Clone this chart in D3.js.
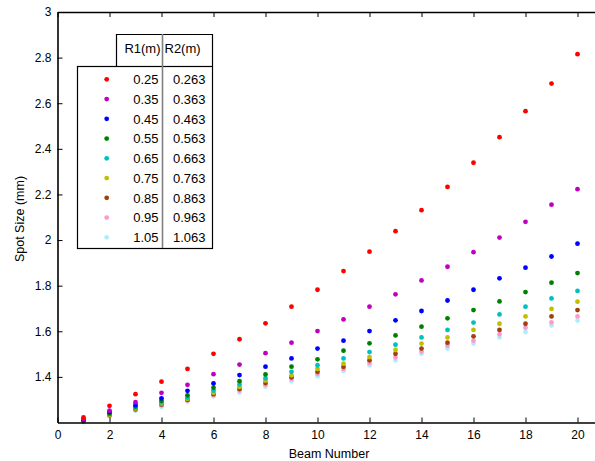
<!DOCTYPE html>
<html>
<head>
<meta charset="utf-8">
<script src="https://cdn.jsdelivr.net/npm/d3@7"></script>
<style>
  body { margin: 0; background: #fff; }
  text { font-family: "Liberation Sans", Arial, sans-serif; fill: #000; }
</style>
</head>
<body>
<script>
// beam numbers along x
var beams = d3.range(1, 21);

// legend radii
var r1Labels = ['0.25', '0.35', '0.45', '0.55', '0.65', '0.75', '0.85', '0.95', '1.05'];
var r2Labels = ['0.263', '0.363', '0.463', '0.563', '0.663', '0.763', '0.863', '0.963', '1.063'];
var colors = ['#ff0000', '#c000c0', '#0000ff', '#008000', '#00c0c0', '#c0c000', '#a0400a', '#ff99cc', '#aaeeff'];

// spot size (mm) per beam, one array per R1
var s025 = [1.222, 1.273, 1.324, 1.379, 1.435, 1.501, 1.565, 1.635, 1.708, 1.782, 1.864, 1.949, 2.039, 2.131, 2.233, 2.339, 2.451, 2.565, 2.686, 2.815];
var s035 = [1.214, 1.252, 1.289, 1.330, 1.365, 1.412, 1.454, 1.504, 1.550, 1.601, 1.652, 1.708, 1.762, 1.823, 1.883, 1.947, 2.011, 2.080, 2.155, 2.223];
var s045 = [1.211, 1.246, 1.277, 1.306, 1.339, 1.371, 1.408, 1.445, 1.481, 1.524, 1.559, 1.601, 1.648, 1.689, 1.735, 1.782, 1.832, 1.879, 1.928, 1.984];
var s055 = [1.209, 1.240, 1.270, 1.295, 1.319, 1.352, 1.381, 1.411, 1.445, 1.477, 1.515, 1.547, 1.582, 1.620, 1.657, 1.693, 1.731, 1.772, 1.813, 1.855];
var s065 = [1.208, 1.237, 1.265, 1.288, 1.310, 1.340, 1.367, 1.394, 1.422, 1.451, 1.481, 1.509, 1.541, 1.573, 1.606, 1.638, 1.674, 1.708, 1.744, 1.777];
var s075 = [1.207, 1.234, 1.261, 1.283, 1.304, 1.330, 1.356, 1.384, 1.407, 1.435, 1.458, 1.487, 1.518, 1.546, 1.573, 1.606, 1.633, 1.665, 1.698, 1.730];
var s085 = [1.206, 1.232, 1.258, 1.279, 1.299, 1.324, 1.347, 1.373, 1.398, 1.422, 1.444, 1.473, 1.501, 1.524, 1.550, 1.578, 1.606, 1.633, 1.665, 1.693];
var s095 = [1.205, 1.230, 1.255, 1.275, 1.296, 1.320, 1.340, 1.365, 1.391, 1.413, 1.435, 1.461, 1.486, 1.511, 1.537, 1.559, 1.587, 1.616, 1.639, 1.665];
var s105 = [1.204, 1.228, 1.251, 1.269, 1.292, 1.315, 1.332, 1.357, 1.381, 1.403, 1.426, 1.451, 1.473, 1.501, 1.524, 1.546, 1.573, 1.597, 1.625, 1.647];

var series = [s025, s035, s045, s055, s065, s075, s085, s095, s105];

var xTicks = d3.range(0, 21, 2);
var yTicks = [1.4, 1.6, 1.8, 2, 2.2, 2.4, 2.6, 2.8, 3];

var W = 595, H = 461;
var x = d3.scaleLinear().domain([0, 21]).range([57.5, 603.5]);
var y = d3.scaleLinear().domain([1.2, 3]).range([422.5, 12]);

var svg = d3.select('body').append('svg')
	.attr('width', W)
	.attr('height', H);

// points, light colours first so red ends on top
for (var i = series.length - 1; i >= 0; i--) {
	svg.append('g')
		.selectAll('circle')
		.data(series[i])
		.enter().append('circle')
		.attr('cx', function(d, j) { return x(beams[j]); })
		.attr('cy', function(d) { return y(d); })
		.attr('r', 2.4)
		.attr('fill', colors[i]);
}

// axes, ticks drawn inward like matlab
var xAxis = svg.append('g')
	.attr('transform', 'translate(0,' + y(1.2) + ')')
	.call(d3.axisBottom(x).tickValues(xTicks).tickSizeInner(-5).tickSizeOuter(0).tickPadding(8));
var xTop = svg.append('g')
	.attr('transform', 'translate(0,' + y(3) + ')')
	.call(d3.axisTop(x).tickValues(xTicks).tickSizeInner(-5).tickSizeOuter(0).tickFormat(''));
var yAxis = svg.append('g')
	.attr('transform', 'translate(' + x(0) + ',0)')
	.call(d3.axisLeft(y).tickValues(yTicks).tickSizeInner(-5).tickSizeOuter(0).tickPadding(6).tickFormat(d3.format('~g')));

[xAxis, xTop, yAxis].forEach(function(a) {
	a.select('.domain').attr('stroke', '#000').attr('stroke-width', 1.6);
	a.selectAll('.tick line').attr('stroke', '#000');
	a.selectAll('text').style('font-size', '12px').style('font-family', '"Liberation Sans", Arial, sans-serif');
});

svg.append('text')
	.attr('x', 329)
	.attr('y', 458)
	.attr('text-anchor', 'middle')
	.style('font-size', '12.5px')
	.text('Beam Number');

svg.append('text')
	.attr('transform', 'translate(24,219) rotate(-90)')
	.attr('text-anchor', 'middle')
	.style('font-size', '12.5px')
	.text('Spot Size (mm)');

// legend table
var lg = svg.append('g');
lg.append('rect')
	.attr('x', 77.5).attr('y', 66.5)
	.attr('width', 135).attr('height', 182)
	.attr('fill', '#fff').attr('stroke', '#000').attr('stroke-width', 1.2);
lg.append('path')
	.attr('d', 'M116.5,66.5V34.5H212.5V66.5')
	.attr('fill', 'none').attr('stroke', '#000').attr('stroke-width', 1.2);
lg.append('line')
	.attr('x1', 162.5).attr('x2', 162.5)
	.attr('y1', 34).attr('y2', 248)
	.attr('stroke', '#808080').attr('stroke-width', 1.6);

lg.append('text').attr('x', 160.5).attr('y', 52.5).attr('text-anchor', 'end')
	.style('font-size', '13px').text('R1(m)');
lg.append('text').attr('x', 164.5).attr('y', 52.5)
	.style('font-size', '13px').text('R2(m)');

var rowY = d3.scaleLinear().domain([0, 8]).range([79.3, 237.3]);
r1Labels.forEach(function(lab, i) {
	lg.append('circle')
		.attr('cx', 106.7).attr('cy', rowY(i))
		.attr('r', 2.4).attr('fill', colors[i]);
	lg.append('text')
		.attr('x', 158.5).attr('y', rowY(i) + 4.7)
		.attr('text-anchor', 'end')
		.style('font-size', '13px')
		.text(lab);
	lg.append('text')
		.attr('x', 205.5).attr('y', rowY(i) + 4.7)
		.attr('text-anchor', 'end')
		.style('font-size', '13px')
		.text(r2Labels[i]);
});
</script>
</body>
</html>
